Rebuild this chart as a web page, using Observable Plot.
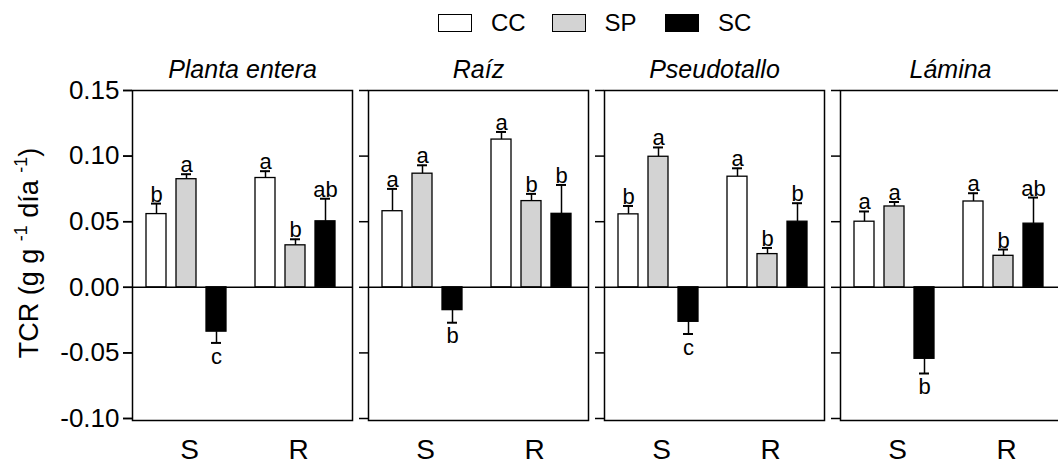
<!DOCTYPE html>
<html>
<head>
<meta charset="utf-8">
<script src="https://cdn.jsdelivr.net/npm/d3@7"></script>
<script src="https://cdn.jsdelivr.net/npm/@observablehq/plot@0.6"></script>
<style>
  body { margin: 0; background: #fff; font-family: "Liberation Sans", Arial, sans-serif; }
  #legend { display: flex; height: 42px; width: 1058px; padding-left: 438px; box-sizing: border-box; }
  .item { width: 113.5px; display: flex; align-items: flex-start; padding-top: 14px; box-sizing: border-box; }
  .sw { width: 34px; height: 18px; border: 1.2px solid #000; box-sizing: border-box; margin-right: 19px; flex: none; }
  .lab { font-size: 24px; line-height: 18px; }
  svg { display: block; }
</style>
</head>
<body>
<div id="legend"></div>
<div id="chart"></div>
<script>
// ---- data ----
const tissues = ["Planta entera", "Raíz", "Pseudotallo", "Lámina"];
const genotypes = ["S", "R"];
const treatments = ["CC", "SP", "SC"];
const treatmentFills = ["#ffffff", "#d3d3d3", "#000000"];
const yTicks = [-0.10, -0.05, 0, 0.05, 0.10, 0.15];

// order in each array: S-CC, S-SP, S-SC, R-CC, R-SP, R-SC
const plantaEntera        = [0.0558, 0.0824, -0.0338, 0.0833, 0.0320, 0.0503];
const plantaEnteraSE      = [0.0080, 0.0038, 0.0086, 0.0052, 0.0046, 0.0172];
const plantaEnteraLetters = ["b", "a", "c", "a", "b", "ab"];

const raiz        = [0.0580, 0.0866, -0.0174, 0.1126, 0.0657, 0.0560];
const raizSE      = [0.0170, 0.0064, 0.0096, 0.0058, 0.0055, 0.0220];
const raizLetters = ["a", "a", "b", "a", "b", "b"];

const pseudotallo        = [0.0556, 0.0995, -0.0263, 0.0843, 0.0253, 0.0500];
const pseudotalloSE      = [0.0064, 0.0071, 0.0093, 0.0064, 0.0047, 0.0141];
const pseudotalloLetters = ["b", "a", "c", "a", "b", "b"];

const lamina        = [0.0500, 0.0616, -0.0545, 0.0654, 0.0240, 0.0485];
const laminaSE      = [0.0078, 0.0034, 0.0112, 0.0063, 0.0048, 0.0199];
const laminaLetters = ["a", "a", "b", "a", "b", "ab"];

const tissueValues = [plantaEntera, raiz, pseudotallo, lamina];
const tissueSE = [plantaEnteraSE, raizSE, pseudotalloSE, laminaSE];
const tissueLetters = [plantaEnteraLetters, raizLetters, pseudotalloLetters, laminaLetters];

// ---- table ----
const rows = [];
tissues.forEach((t, ti) => {
  genotypes.forEach((g, gi) => {
    treatments.forEach((tr, ri) => {
      const k = gi * 3 + ri;
      const v = tissueValues[ti][k];
      const se = tissueSE[ti][k];
      rows.push({tissue: t, genotype: g, treatment: tr, value: v,
                 end: v >= 0 ? v + se : v - se, letter: tissueLetters[ti][k]});
    });
  });
});

// ---- legend ----
const legend = document.getElementById("legend");
treatments.forEach((tr, i) => {
  const item = document.createElement("div");
  item.className = "item";
  const sw = document.createElement("div");
  sw.className = "sw";
  sw.style.background = treatmentFills[i];
  const lab = document.createElement("span");
  lab.className = "lab";
  lab.textContent = tr;
  item.appendChild(sw); item.appendChild(lab);
  legend.appendChild(item);
});

// ---- layout of treatments inside a genotype group (80px wide band) ----
const barInsets = [[0, 60], [30, 30], [60, 0]];
const capInsets = [[5, 65], [35, 35], [65, 5]];
const offsets = [-30, 0, 30];

const marks = [
  Plot.frame({stroke: "black", strokeWidth: 1.5}),
  Plot.ruleY([0], {stroke: "black", strokeWidth: 1.5})
];

treatments.forEach((tr, i) => {
  const d = rows.filter(r => r.treatment === tr);
  const pos = d.filter(r => r.value >= 0);
  const neg = d.filter(r => r.value < 0);
  marks.push(
    Plot.ruleX(d, {fx: "tissue", x: "genotype", y1: "value", y2: "end", dx: offsets[i],
                   stroke: "black", strokeWidth: 1.5}),
    Plot.tickY(d, {fx: "tissue", x: "genotype", y: "end", insetLeft: capInsets[i][0], insetRight: capInsets[i][1],
                   stroke: "black", strokeWidth: 2}),
    Plot.barY(d, {fx: "tissue", x: "genotype", y: "value", fill: treatmentFills[i],
                  stroke: "black", strokeWidth: 1.3,
                  insetLeft: barInsets[i][0], insetRight: barInsets[i][1]}),
    Plot.text(pos, {fx: "tissue", x: "genotype", y: "end", text: "letter", dx: offsets[i], dy: -2,
                    lineAnchor: "bottom", fontSize: 22, fill: "black"}),
    Plot.text(neg, {fx: "tissue", x: "genotype", y: "end", text: "letter", dx: offsets[i], dy: 5,
                    lineAnchor: "top", fontSize: 22, fill: "black"})
  );
});

marks.push(
  Plot.axisY({ticks: yTicks, tickFormat: d => d.toFixed(2), tickSize: 9, tickPadding: 4,
              fontSize: 26, strokeWidth: 1.5, label: null}),
  Plot.axisY({ticks: yTicks, tickSize: 9, strokeWidth: 1.5, fill: "none", label: null, facetAnchor: null}),
  Plot.axisX({tickSize: 0, tickPadding: 19, fontSize: 28, dx: 3, label: null}),
  Plot.axisFx({anchor: "top", tickSize: 0, tickPadding: 13, fontSize: 25, fontStyle: "italic", label: null})
);

const svgHeight = 424;
const chart = Plot.plot({
  width: 1058,
  height: svgHeight,
  marginTop: 48,
  marginBottom: 46,
  marginLeft: 131,
  marginRight: 0,
  style: {fontFamily: "'Liberation Sans', Arial, sans-serif", color: "black", background: "white"},
  fx: {domain: tissues, range: [131, 1060], paddingInner: 0.069, paddingOuter: 0},
  x: {domain: genotypes, paddingInner: 0.266, paddingOuter: 0.142, align: 0.45},
  y: {domain: [-0.10, 0.15], range: [376, 48]},
  marks
});
document.getElementById("chart").appendChild(chart);

// y-axis title with superscripts
const svg = d3.select(chart);
const t = svg.append("text")
  .attr("transform", "translate(38,211) rotate(-90)")
  .attr("text-anchor", "middle")
  .attr("font-size", 27)
  .attr("fill", "black")
  .attr("font-family", "'Liberation Sans', Arial, sans-serif");
t.append("tspan").text("TCR (g g ");
t.append("tspan").attr("font-size", 18).attr("dy", -11).text("-1");
t.append("tspan").attr("dy", 11).text(" día ");
t.append("tspan").attr("font-size", 18).attr("dy", -11).text("-1");
t.append("tspan").attr("dy", 11).text(")");
</script>
</body>
</html>
